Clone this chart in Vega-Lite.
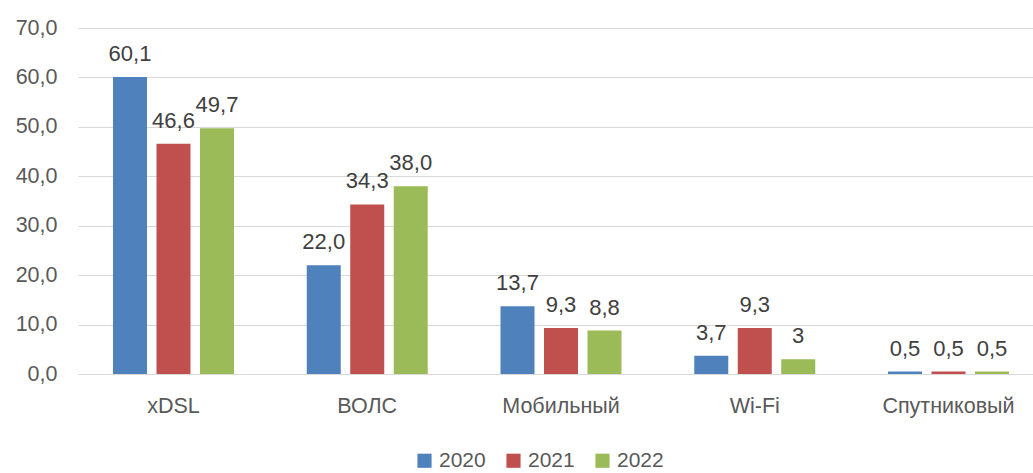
{
  "$schema": "https://vega.github.io/schema/vega-lite/v6.json",
  "width": 966,
  "height": 346,
  "autosize": {"type": "none"},
  "padding": {"left": 78, "top": 28, "right": 0, "bottom": 99},
  "config": {
    "view": {"stroke": null},
    "font": "Liberation Sans",
    "axis": {"labelFont": "Liberation Sans", "labelFontSize": 21.5, "labelColor": "#595959"},
    "legend": {"labelFont": "Liberation Sans", "labelFontSize": 21, "labelColor": "#595959"}
  },
  "data": {
    "values": [
      {"cat": "xDSL", "year": "2020", "value": 60.1, "label": "60,1"},
      {"cat": "xDSL", "year": "2021", "value": 46.6, "label": "46,6"},
      {"cat": "xDSL", "year": "2022", "value": 49.7, "label": "49,7"},
      {"cat": "ВОЛС", "year": "2020", "value": 22.0, "label": "22,0"},
      {"cat": "ВОЛС", "year": "2021", "value": 34.3, "label": "34,3"},
      {"cat": "ВОЛС", "year": "2022", "value": 38.0, "label": "38,0"},
      {"cat": "Мобильный", "year": "2020", "value": 13.7, "label": "13,7"},
      {"cat": "Мобильный", "year": "2021", "value": 9.3, "label": "9,3"},
      {"cat": "Мобильный", "year": "2022", "value": 8.8, "label": "8,8"},
      {"cat": "Wi-Fi", "year": "2020", "value": 3.7, "label": "3,7"},
      {"cat": "Wi-Fi", "year": "2021", "value": 9.3, "label": "9,3"},
      {"cat": "Wi-Fi", "year": "2022", "value": 3, "label": "3"},
      {"cat": "Спутниковый", "year": "2020", "value": 0.5, "label": "0,5"},
      {"cat": "Спутниковый", "year": "2021", "value": 0.5, "label": "0,5"},
      {"cat": "Спутниковый", "year": "2022", "value": 0.5, "label": "0,5"}
    ]
  },
  "encoding": {
    "x": {
      "field": "cat", "type": "nominal", "sort": null, "title": null,
      "scale": {"paddingInner": 0.3755, "paddingOuter": 0.1806},
      "axis": {"labelAngle": 0, "ticks": false, "domain": true, "domainColor": "#d9d9d9", "domainWidth": 1, "labelPadding": 21}
    },
    "xOffset": {
      "field": "year", "type": "nominal", "sort": ["2020", "2021", "2022"],
      "scale": {"paddingInner": 0.218, "paddingOuter": 0}
    },
    "y": {
      "field": "value", "type": "quantitative", "title": null,
      "scale": {"domain": [0, 70], "nice": false},
      "axis": {
        "values": [0, 10, 20, 30, 40, 50, 60, 70],
        "labelExpr": "replace(format(datum.value, '.1f'), '.', ',')",
        "ticks": false, "domain": false, "grid": true, "gridColor": "#d9d9d9", "gridWidth": 1,
        "labelPadding": 21
      }
    }
  },
  "layer": [
    {
      "mark": {"type": "bar"},
      "encoding": {
        "color": {
          "field": "year", "type": "nominal", "title": null,
          "scale": {"domain": ["2020", "2021", "2022"], "range": ["#4F81BD", "#C0504D", "#9BBB59"]},
          "legend": {
            "orient": "none", "legendX": 336, "legendY": 422, "direction": "horizontal",
            "symbolType": "square", "symbolSize": 200, "symbolStrokeWidth": 0,
            "labelOffset": 4, "columnPadding": 17
          }
        }
      }
    },
    {
      "mark": {"type": "text", "baseline": "alphabetic", "dy": -16, "fontSize": 22, "color": "#404040", "font": "Liberation Sans"},
      "encoding": {"text": {"field": "label"}}
    }
  ]
}
